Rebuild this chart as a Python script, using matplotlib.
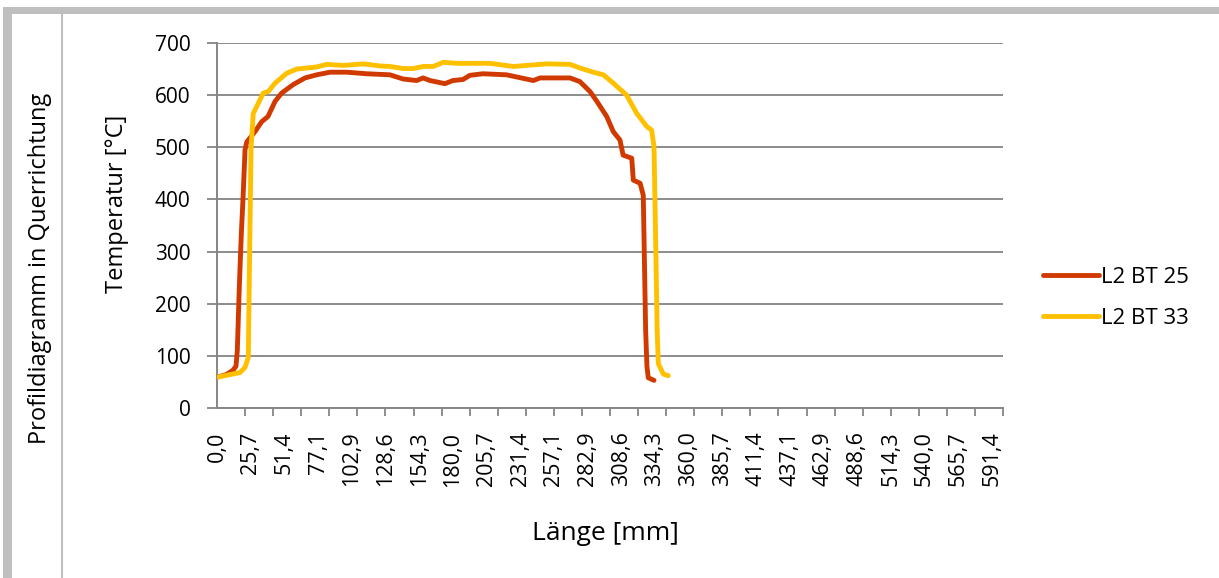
import matplotlib
matplotlib.use("Agg")
import matplotlib.pyplot as plt
from matplotlib.patches import Rectangle
from matplotlib.lines import Line2D
import numpy as np

plt.rcParams['font.family'] = ['Open Sans', 'DejaVu Sans']

# Profil L2 BT 25 (Länge in mm, Temperatur in °C)
bt25_mm = [0, 7, 12, 14.5, 15.5, 17, 18.5, 20, 21.4, 22.7, 29, 34.1, 38.9, 44.3, 49.4,
           58, 67.2, 76.1, 86.3, 99, 114.3, 132, 142, 152.4, 157.3, 162.6, 174, 180,
           187.8, 193, 203, 221, 241.5, 246.6, 269.5, 277, 284.7, 290, 297.5, 302.5,
           307.6, 310, 316.6, 317.8, 323, 325.4, 326.5, 327.2, 328.2, 329.2, 333.6]
bt25_temp = [59, 64, 72, 80, 110, 230, 330, 410, 495, 510, 530, 549, 559, 588, 604,
             620, 633, 639, 644, 644, 641, 639, 631, 628, 633, 628, 622, 628,
             630, 638, 641, 639, 628, 633, 633, 626, 607, 588, 559, 530,
             514, 485, 479, 437, 431, 408, 250, 150, 80, 58, 53]

# Profil L2 BT 33
bt33_mm = [0, 17.6, 21.4, 23.9, 24.4, 25.2, 26, 27.7, 30.3, 35.3, 39.2, 44.3, 53.2,
           60.8, 76.1, 83.7, 96.4, 111.7, 124.4, 132, 142.2, 149.8, 157.5, 165.1,
           172.7, 183, 198.2, 208.4, 226.2, 251.7, 269.5, 277.1, 287.2, 294.9,
           302.5, 312.7, 320.4, 328, 331.8, 333.6, 335, 336, 336.9, 340.7, 344.5]
bt33_temp = [59, 68, 78, 97, 200, 350, 500, 565, 578, 604, 607, 623, 642,
             650, 654, 659, 657, 660, 656, 655, 651, 651, 655, 655,
             663, 661, 661, 661, 655, 660, 659, 652, 644, 639,
             623, 600, 565, 540, 533, 501, 300, 150, 85, 65, 62]

x_labels = ['0,0', '25,7', '51,4', '77,1', '102,9', '128,6', '154,3', '180,0',
            '205,7', '231,4', '257,1', '282,9', '308,6', '334,3', '360,0', '385,7',
            '411,4', '437,1', '462,9', '488,6', '514,3', '540,0', '565,7', '591,4']
y_ticks = [0, 100, 200, 300, 400, 500, 600, 700]

W, H = 1219, 578
fig = plt.figure(figsize=(W / 100, H / 100), dpi=100)

# frame like the sheet around the chart
frame_col = '#BFBFBF'
fig.add_artist(Rectangle((3 / W, 1 - 14 / H), 1, 7 / H, transform=fig.transFigure,
                         color=frame_col, lw=0))
fig.add_artist(Rectangle((3 / W, 0), 9 / W, 1 - 7 / H, transform=fig.transFigure,
                         color=frame_col, lw=0))
fig.add_artist(Line2D([62 / W, 62 / W], [0, 1 - 14 / H], transform=fig.transFigure,
                      color=frame_col, lw=1.5))

ax = fig.add_axes([217 / W, 1 - 408 / H, (1003 - 217) / W, (408 - 43) / H])

ax.plot(bt25_mm, bt25_temp, color='#D03A00', lw=3.5, solid_capstyle='round',
        solid_joinstyle='round', label='L2 BT 25', zorder=3)
ax.plot(bt33_mm, bt33_temp, color='#FFC000', lw=3.5, solid_capstyle='round',
        solid_joinstyle='round', label='L2 BT 33', zorder=3)

ax.set_xlim(0, 600)
ax.set_ylim(0, 700)

ax.set_yticks(y_ticks)
ax.set_yticklabels([str(v) for v in y_ticks])
ax.set_xticks([float(s.replace(',', '.')) for s in x_labels])
ax.set_xticklabels(x_labels, rotation=90, va='top', ha='center')
ax.set_xticks(np.arange(29) * 150 / 7, minor=True)

ax.tick_params(axis='x', which='major', length=0, pad=17, labelsize=15.5)
ax.tick_params(axis='x', which='minor', length=6, width=1.3, color='#868686')
ax.tick_params(axis='y', length=7, width=1.3, color='#868686', pad=12, labelsize=15)

ax.grid(axis='y', color='#8C8C8C', lw=1.4)
ax.set_axisbelow(True)
for s in ['top', 'right']:
    ax.spines[s].set_visible(False)
for s in ['left', 'bottom']:
    ax.spines[s].set_color('#868686')
    ax.spines[s].set_linewidth(1.4)

fig.text(117 / W, 1 - 204 / H, 'Temperatur [°C]', rotation=90, ha='center',
         va='center', fontsize=17)
fig.text(605 / W, 1 - 533 / H, 'Länge [mm]', ha='center', va='center', fontsize=19)
fig.text(40 / W, 1 - 268 / H, 'Profildiagramm in Querrichtung', rotation=90,
         ha='center', va='center', fontsize=17)

ax.legend(loc='center left', bbox_to_anchor=(1043 / W, 1 - 298 / H),
          bbox_transform=fig.transFigure, frameon=False, fontsize=16,
          handlelength=2.5, handletextpad=0.1, labelspacing=0.9,
          borderpad=0, borderaxespad=0)

fig.savefig('out.png', dpi=100)
